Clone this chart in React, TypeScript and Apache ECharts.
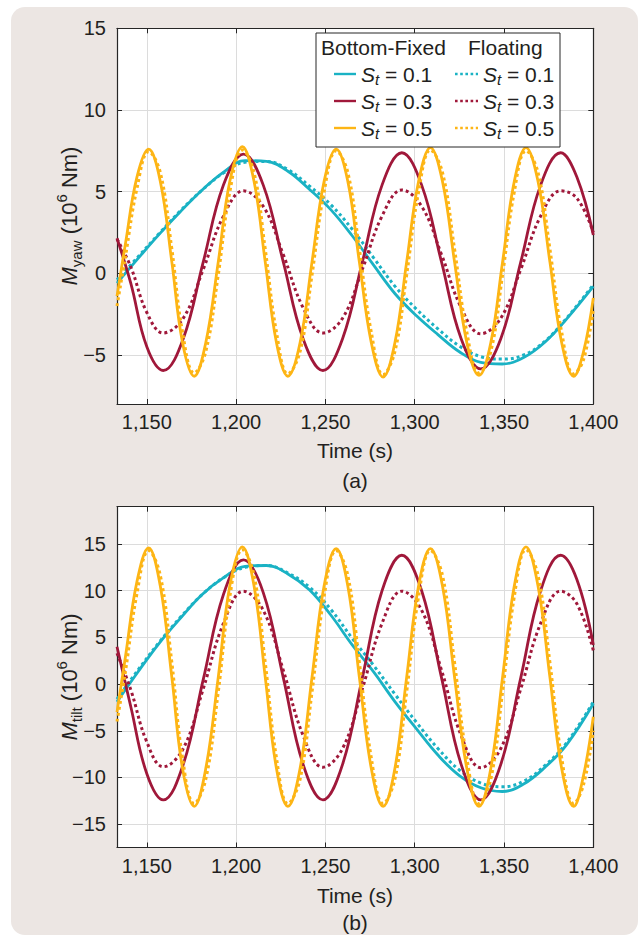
import React, { useEffect, useRef } from 'react';
import * as echarts from 'echarts';

// ---------- data ----------
const xTicks = [1150, 1200, 1250, 1300, 1350, 1400];
const yawTicks = [-5, 0, 5, 10, 15];
const tiltTicks = [-15, -10, -5, 0, 5, 10, 15];
const strouhal = ['0.1', '0.3', '0.5'];

// sample times (s)
const tYellow = [1133.3, 1138, 1144.5, 1151, 1157.5, 1164, 1170, 1176.5, 1183, 1190, 1196.5, 1203.5, 1210, 1216.3, 1222.6, 1229, 1235.8, 1242.5, 1249.3, 1256, 1262.5, 1269, 1275.7, 1282.3, 1288.9, 1295.5, 1302.2, 1308.8, 1315.5, 1322.3, 1329.2, 1336, 1342.6, 1349.2, 1355.8, 1362.3, 1369, 1375.7, 1382.3, 1389, 1394.5, 1400];
const tRed = [1133.3, 1141, 1150, 1159.2, 1170.4, 1181.6, 1192.9, 1204.1, 1215.2, 1226.4, 1237.5, 1248.6, 1259.6, 1270.7, 1281.7, 1292.8, 1303.9, 1315, 1326, 1337, 1348.2, 1359.4, 1370.5, 1381.7, 1390.8, 1400];
const tCyan = [1133.3, 1145, 1157, 1169, 1181, 1193, 1205, 1217, 1229, 1241, 1253, 1265, 1277, 1289, 1301, 1313, 1325, 1337, 1349, 1361, 1373, 1385, 1400];

// (a) M_yaw, 10^6 Nm
const yawFixed01 = [-0.6, 0.9, 2.4, 3.8, 5.1, 6.2, 6.9, 6.85, 6.25, 5.15, 3.9, 2.3, 0.5, -1.25, -2.6, -3.75, -4.8, -5.45, -5.55, -5.15, -4.2, -2.8, -0.8];
const yawFloat01 = [-0.4, 1.0, 2.45, 3.85, 5.1, 6.15, 6.8, 6.85, 6.35, 5.35, 4.2, 2.7, 0.95, -0.8, -2.2, -3.4, -4.45, -5.1, -5.25, -5.0, -4.15, -2.75, -0.7];
const yawFixed03 = [2.15, -0.6, -4.5, -5.95, -4.0, 0.7, 5.4, 7.3, 5.4, 0.7, -4.0, -5.95, -4.0, 0.7, 5.4, 7.38, 5.4, 0.7, -4.0, -5.85, -4.0, 0.7, 5.4, 7.38, 5.9, 2.35];
const yawFloat03 = [2.1, 0.4, -2.4, -3.65, -2.75, 0.25, 3.5, 5.05, 4.1, 1.15, -2.1, -3.65, -2.75, 0.25, 3.5, 5.1, 4.1, 1.15, -2.1, -3.7, -2.75, 0.25, 3.5, 5.05, 4.6, 2.5];
const yawFixed05 = [-1.4, 1.8, 5.9, 7.6, 5.65, 0.7, -4.25, -6.3, -4.25, 0.7, 5.65, 7.75, 5.65, 0.7, -4.25, -6.3, -4.25, 0.7, 5.65, 7.6, 5.65, 0.7, -4.25, -6.35, -4.25, 0.7, 5.65, 7.7, 5.65, 0.7, -4.25, -6.25, -4.25, 0.7, 5.65, 7.7, 5.65, 0.7, -4.25, -6.3, -4.8, -1.5];
const yawFloat05 = [-2.0, 1.0, 5.2, 7.45, 6.2, 1.5, -3.6, -6.1, -4.8, -0.1, 5.0, 7.55, 6.2, 1.5, -3.6, -6.15, -4.8, -0.1, 5.0, 7.5, 6.2, 1.5, -3.6, -6.2, -4.8, -0.1, 5.0, 7.55, 6.2, 1.5, -3.6, -6.1, -4.8, -0.1, 5.0, 7.5, 6.2, 1.5, -3.6, -6.15, -5.3, -2.2];

// (b) M_tilt, 10^6 Nm
const tiltFixed01 = [-1.9, 1.3, 4.4, 7.1, 9.6, 11.4, 12.6, 12.7, 11.8, 10.1, 7.4, 4.2, 1.3, -1.9, -4.8, -7.6, -9.8, -11.1, -11.5, -10.7, -8.9, -6.5, -2.1];
const tiltFloat01 = [-1.6, 1.5, 4.5, 7.2, 9.6, 11.4, 12.5, 12.7, 11.9, 10.4, 8.0, 4.9, 2.0, -1.1, -4.1, -6.9, -9.2, -10.6, -11.0, -10.4, -8.7, -6.3, -1.9];
const tiltFixed03 = [4.0, -2.4, -9.6, -12.4, -8.6, 0.5, 9.6, 13.3, 9.8, 0.7, -8.6, -12.4, -8.6, 0.7, 10.0, 13.8, 10.0, 0.7, -8.6, -12.4, -8.6, 0.7, 10.0, 13.8, 11.2, 4.2];
const tiltFloat03 = [3.3, -0.6, -6.2, -8.85, -6.9, -0.5, 6.5, 9.95, 7.9, 1.5, -5.5, -8.9, -6.9, -0.5, 6.5, 9.95, 7.9, 1.5, -5.5, -8.95, -6.9, -0.5, 6.5, 9.95, 8.6, 3.6];
const tiltFixed05 = [-3.0, 2.9, 11.0, 14.6, 10.55, 0.75, -9.05, -13.1, -9.05, 0.75, 10.55, 14.7, 10.55, 0.75, -9.05, -13.1, -9.05, 0.75, 10.55, 14.5, 10.55, 0.75, -9.05, -13.1, -9.05, 0.75, 10.55, 14.5, 10.55, 0.75, -9.05, -13.1, -9.05, 0.75, 10.55, 14.7, 10.55, 0.75, -9.05, -13.1, -9.8, -3.5];
const tiltFloat05 = [-4.0, 1.3, 9.7, 14.3, 11.7, 2.35, -7.9, -12.8, -10.2, -0.85, 9.4, 14.4, 11.7, 2.35, -7.9, -12.8, -10.2, -0.85, 9.4, 14.3, 11.7, 2.35, -7.9, -12.8, -10.2, -0.85, 9.4, 14.3, 11.7, 2.35, -7.9, -12.8, -10.2, -0.85, 9.4, 14.4, 11.7, 2.35, -7.9, -12.8, -10.8, -5.0];

// ---------- styling ----------
const CYAN = '#1AB2C4';
const RED = '#A0183A';
const YELLOW = '#FDB515';
const AX = '#262626';
const GRIDC = '#DCDCDC';
const TXT = '#231F20';
const PANEL = '#ECE6E3';
const FONT = "'Liberation Sans', Arial, Helvetica, sans-serif";

const X_MIN = 1133.3, X_MAX = 1400;
const YAW_MIN = -8, YAW_MAX = 15;
const TILT_MIN = -17.5, TILT_MAX = 19;

const GL = 117, GW = 476.3;
const A_TOP = 28.3, A_H = 375.7;
const B_TOP = 506.7, B_H = 340.8;

const fmtX = (v: number) => String(v).replace(/\B(?=(\d{3})+(?!\d))/g, ',');
const fmtY = (v: number) => (v < 0 ? '\u2212' + Math.abs(v) : String(v));
const zip = (t: number[], v: number[]) => t.map((x, i) => [x, v[i]]);

function xAxes(gridIndex: number) {
  const base: any = { gridIndex, type: 'value', min: X_MIN, max: X_MAX };
  const line = { show: true, onZero: false, lineStyle: { color: AX, width: 1.2 } };
  const tick = { show: true, inside: true, length: 5, customValues: xTicks, lineStyle: { color: AX, width: 1 } };
  return [
    {
      ...base, position: 'bottom', axisLine: line, axisTick: tick,
      axisLabel: { show: true, customValues: xTicks, formatter: fmtX, fontSize: 20, fontFamily: FONT, color: TXT, margin: 8, showMinLabel: true, showMaxLabel: true },
      splitLine: { show: true, lineStyle: { color: GRIDC, width: 1 } },
    },
    { ...base, position: 'top', axisLine: line, axisTick: tick, axisLabel: { show: false }, splitLine: { show: false } },
  ];
}

function yAxes(gridIndex: number, min: number, max: number, ticks: number[]) {
  const base: any = { gridIndex, type: 'value', min, max };
  const line = { show: true, onZero: false, lineStyle: { color: AX, width: 1.2 } };
  const tick = { show: true, inside: true, length: 5, customValues: ticks, lineStyle: { color: AX, width: 1 } };
  return [
    {
      ...base, position: 'left', axisLine: line, axisTick: tick,
      axisLabel: { show: true, customValues: ticks, formatter: fmtY, fontSize: 20, fontFamily: FONT, color: TXT, margin: 11, showMinLabel: true, showMaxLabel: true },
      splitLine: { show: true, lineStyle: { color: GRIDC, width: 1 } },
    },
    { ...base, position: 'right', axisLine: line, axisTick: tick, axisLabel: { show: false }, splitLine: { show: false } },
  ];
}

function lineSeries(name: string, xi: number, t: number[], v: number[], color: string, dotted: boolean) {
  return {
    name, type: 'line', xAxisIndex: xi, yAxisIndex: xi,
    data: zip(t, v), symbol: 'none', showSymbol: false, smooth: 0.4, clip: true,
    lineStyle: dotted ? { color, width: 3, type: [3, 3], cap: 'butt' } : { color, width: 2.8 },
    emphasis: { disabled: true },
  };
}

function plotSeries(xi: number, tag: string, f01: number[], p01: number[], f03: number[], p03: number[], f05: number[], p05: number[]) {
  return [
    lineSeries(tag + ' Bottom-Fixed St=0.1', xi, tCyan, f01, CYAN, false),
    lineSeries(tag + ' Floating St=0.1', xi, tCyan, p01, CYAN, true),
    lineSeries(tag + ' Bottom-Fixed St=0.3', xi, tRed, f03, RED, false),
    lineSeries(tag + ' Floating St=0.3', xi, tRed, p03, RED, true),
    lineSeries(tag + ' Bottom-Fixed St=0.5', xi, tYellow, f05, YELLOW, false),
    lineSeries(tag + ' Floating St=0.5', xi, tYellow, p05, YELLOW, true),
  ];
}

function yName(x: number, y: number, sub: string) {
  return {
    type: 'text', x, y, rotation: Math.PI / 2, z: 50,
    style: {
      text: '{m|M}{s|' + sub + '}{n| (10}{p|6}{n| Nm)}',
      align: 'center', verticalAlign: 'middle', fill: TXT,
      rich: {
        m: { fontSize: 22, fontStyle: 'italic', fontFamily: FONT, fill: TXT, lineHeight: 30, verticalAlign: 'middle' },
        s: { fontSize: 15, fontFamily: FONT, fill: TXT, lineHeight: 16, verticalAlign: 'bottom' },
        n: { fontSize: 22, fontFamily: FONT, fill: TXT, lineHeight: 30, verticalAlign: 'middle' },
        p: { fontSize: 15, fontFamily: FONT, fill: TXT, lineHeight: 18, verticalAlign: 'top' },
      },
    },
  };
}

function caption(x: number, y: number, text: string) {
  return { type: 'text', x, y, z: 50, style: { text, align: 'center', verticalAlign: 'middle', fill: TXT, fontSize: 21, fontFamily: FONT } };
}

const legendRich = {
  i: { fontSize: 21, fontStyle: 'italic', fontFamily: FONT, fill: TXT, lineHeight: 26, verticalAlign: 'middle' },
  t: { fontSize: 15, fontStyle: 'italic', fontFamily: FONT, fill: TXT, lineHeight: 14, verticalAlign: 'bottom' },
  n: { fontSize: 21, fontFamily: FONT, fill: TXT, lineHeight: 26, verticalAlign: 'middle' },
};

function legendGraphics() {
  const els: any[] = [];
  const bx = 316, by = 33, bw = 244, bh = 114;
  els.push({ type: 'rect', z: 60, shape: { x: bx, y: by, width: bw, height: bh }, style: { fill: '#fff', stroke: AX, lineWidth: 1 } });
  els.push({ type: 'text', z: 61, x: 321, y: 47, style: { text: 'Bottom-Fixed', align: 'left', verticalAlign: 'middle', fill: TXT, fontSize: 21, fontFamily: FONT } });
  els.push({ type: 'text', z: 61, x: 468, y: 47, style: { text: 'Floating', align: 'left', verticalAlign: 'middle', fill: TXT, fontSize: 21, fontFamily: FONT } });
  const colors = [CYAN, RED, YELLOW];
  const rows = [74, 101, 128];
  strouhal.forEach((s, i) => {
    const y = rows[i];
    els.push({ type: 'line', z: 61, shape: { x1: 334, y1: y, x2: 356, y2: y }, style: { stroke: colors[i], lineWidth: 2.4 } });
    els.push({ type: 'line', z: 61, shape: { x1: 455, y1: y, x2: 478, y2: y }, style: { stroke: colors[i], lineWidth: 2.6, lineDash: [2.6, 2.6] } });
    const txt = '{i|S}{t|t}{n| = ' + s + '}';
    els.push({ type: 'text', z: 61, x: 361, y, style: { text: txt, align: 'left', verticalAlign: 'middle', fill: TXT, rich: legendRich } });
    els.push({ type: 'text', z: 61, x: 483, y, style: { text: txt, align: 'left', verticalAlign: 'middle', fill: TXT, rich: legendRich } });
  });
  return els;
}

export default function App() {
  const ref = useRef<HTMLDivElement>(null);
  useEffect(() => {
    if (!ref.current) return;
    const chart = echarts.init(ref.current, null, { renderer: 'svg' });
    const option: any = {
      animation: false,
      backgroundColor: '#ffffff',
      textStyle: { fontFamily: FONT },
      grid: [
        { left: GL, top: A_TOP, width: GW, height: A_H, show: true, backgroundColor: '#fff', borderWidth: 0, containLabel: false, outerBoundsMode: 'none' },
        { left: GL, top: B_TOP, width: GW, height: B_H, show: true, backgroundColor: '#fff', borderWidth: 0, containLabel: false, outerBoundsMode: 'none' },
      ],
      xAxis: [...xAxes(0), ...xAxes(1)],
      yAxis: [...yAxes(0, YAW_MIN, YAW_MAX, yawTicks), ...yAxes(1, TILT_MIN, TILT_MAX, tiltTicks)],
      series: [
        ...plotSeries(0, '(a)', yawFixed01, yawFloat01, yawFixed03, yawFloat03, yawFixed05, yawFloat05),
        ...plotSeries(2, '(b)', tiltFixed01, tiltFloat01, tiltFixed03, tiltFloat03, tiltFixed05, tiltFloat05),
      ],
      graphic: [
        { type: 'rect', z: -10, shape: { x: 11, y: 7, width: 627, height: 928, r: 14 }, style: { fill: PANEL } },
        yName(69, 216, 'yaw'),
        yName(69, 677, 'tilt'),
        caption(355, 450, 'Time (s)'),
        caption(355, 480, '(a)'),
        caption(355, 895, 'Time (s)'),
        caption(355, 922, '(b)'),
        ...legendGraphics(),
      ],
    };
    chart.setOption(option);
    return () => chart.dispose();
  }, []);
  return <div ref={ref} style={{ position: 'fixed', left: 0, top: 0, width: 644, height: 936 }} />;
}
